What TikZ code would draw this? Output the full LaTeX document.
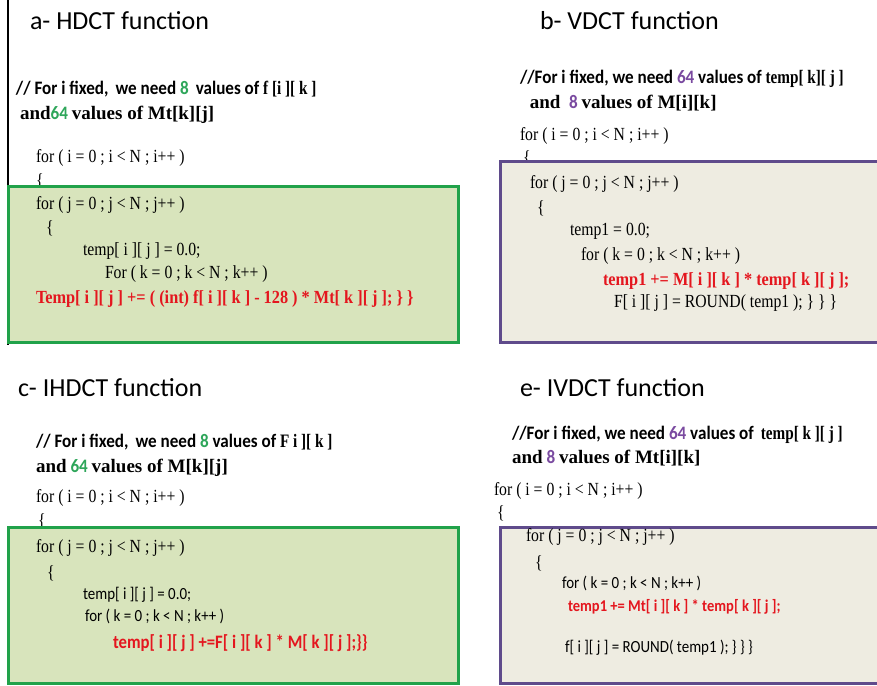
\documentclass[tikz,border=0pt]{standalone}
\usepackage{fontspec}
\setmainfont{Liberation Serif}
\newfontfamily\calfont{Carlito}
\newfontfamily\calcond[FakeStretch=0.9]{Carlito}
\newfontfamily\calcode[FakeStretch=0.88]{Carlito}
\newfontfamily\serfont[FakeStretch=0.85]{Liberation Serif}
\newfontfamily\serred[FakeStretch=0.88]{Liberation Serif}
\newfontfamily\serbold{Liberation Serif}
\newfontfamily\serboldc[FakeStretch=0.8]{Liberation Serif}
\definecolor{gborder}{HTML}{21A24A}
\definecolor{gfill}{HTML}{D8E4BC}
\definecolor{pborder}{HTML}{5F4B8B}
\definecolor{pfill}{HTML}{EEECE1}
\definecolor{gnum}{HTML}{2EA65A}
\definecolor{pnum}{HTML}{7A4AA0}
\definecolor{redc}{HTML}{E4161E}
\newcommand{\serbf}[1]{{\serbold\bfseries\fontsize{19}{21}\selectfont #1}}
\newcommand{\serbfc}[1]{{\serboldc\bfseries\fontsize{19}{21}\selectfont #1}}
\begin{document}
\begin{tikzpicture}[x=1pt,y=-1pt,
 txt/.style={anchor=base west, inner sep=0pt, outer sep=0pt},
 title/.style={txt, font=\calfont\fontsize{26}{30}\selectfont},
 cmt/.style={txt, font=\calcond\bfseries\fontsize{19}{21}\selectfont},
 scode/.style={txt, font=\serfont\fontsize{18.5}{20}\selectfont},
 ccode/.style={txt, font=\calcode\fontsize{17}{18}\selectfont},
 sred/.style={txt, text=redc, font=\serred\bfseries\fontsize{18.5}{20}\selectfont},
 cred/.style={txt, text=redc, font=\calcode\bfseries\fontsize{19}{20}\selectfont},
 ered/.style={txt, text=redc, font=\calcode\bfseries\fontsize{16.5}{20}\selectfont},
 gbox/.style={draw=gborder, fill=gfill, line width=3pt},
 pbox/.style={draw=pborder, fill=pfill, line width=3pt}]
\useasboundingbox (0,0) rectangle (877,685);
\fill[white] (0,0) rectangle (877,685);
% left vertical rule
\coordinate (vtop) at (8,0);
\coordinate (vbot) at (8,345);
\draw[line width=1.2pt] (vtop) -- (vbot);

% ---------- a ----------
\node[title] (ta) at (30,30) {a- HDCT function};
\node[cmt] (ca1) at (16,94) {// For i fixed,\, we need {\color{gnum}8}\, values of \serbfc{f [i ][ k ]}};
\node[cmt] (ca2) at (20,119) {\serbf{and}{\color{gnum}64} \serbf{values of Mt[k][j]}};
\node[scode] (fa1) at (36,162) {for ( i = 0 ; i < N ; i++ )};
\node[scode] (ba1) at (36,186) {\{};
\draw[gbox] (8,186) rectangle (458,342);
\node[scode] (fa2) at (36,209) {for ( j = 0 ; j < N ; j++ )};
\node[scode] (ba2) at (46,233) {\{};
\node[scode] (ka1) at (83,255) {temp[ i ][ j ] = 0.0;};
\node[scode] (ka2) at (105,278) {For ( k = 0 ; k < N ; k++ )};
\node[sred] (ra) at (36,303) {Temp[ i ][ j ] += ( (int) f[ i ][ k ] - 128 ) * Mt[ k ][ j ]; \} \}};

% ---------- b ----------
\node[title] (tb) at (540,30) {b- VDCT function};
\node[cmt] (cb1) at (520,83) {//For i fixed, we need {\color{pnum}64} values of \serbfc{temp[ k][ j ]}};
\node[cmt] (cb2) at (525,108) {\serbf{\ and\ } {\color{pnum}8} \serbf{values of M[i][k]}};
\node[scode] (fb1) at (520,140) {for ( i = 0 ; i < N ; i++ )};
\node[scode] (bb1) at (523,163) {\{};
\draw[pbox] (500,161) rectangle (885,342);
\node[scode] (fb2) at (530,188) {for ( j = 0 ; j < N ; j++ )};
\node[scode] (bb2) at (537,213) {\{};
\node[scode] (kb1) at (570,235) {temp1 = 0.0;};
\node[scode] (kb2) at (581,260) {for ( k = 0 ; k < N ; k++ )};
\node[sred] (rb) at (603,285) {temp1 += M[ i ][ k ] * temp[ k ][ j ];};
\node[scode] (kb3) at (614,307) {F[ i ][ j ] = ROUND( temp1 ); \} \} \}};

% ---------- c ----------
\node[title] (tc) at (18,396) {c- IHDCT function};
\node[cmt] (cc1) at (36,447) {// For i fixed,\, we need {\color{gnum}8} values of \serbfc{F i ][ k ]}};
\node[cmt] (cc2) at (36,472) {\serbf{and} {\color{gnum}64} \serbf{values of M[k][j]}};
\node[scode] (fc1) at (36,502) {for ( i = 0 ; i < N ; i++ )};
\node[scode] (bc1) at (38,526) {\{};
\draw[gbox] (8,527) rectangle (458,683);
\node[scode] (fc2) at (36,552) {for ( j = 0 ; j < N ; j++ )};
\node[scode] (bc2) at (47,578) {\{};
\node[ccode] (kc1) at (83,599) {temp[ i ][ j ] = 0.0;};
\node[ccode] (kc2) at (85,621) {for ( k = 0 ; k < N ; k++ )};
\node[cred] (rc) at (113,648) {temp[ i ][ j ] +=F[ i ][ k ] * M[ k ][ j ];\}\}};

% ---------- e ----------
\node[title] (te) at (520,396) {e- IVDCT function};
\node[cmt] (ce1) at (512,439) {//For i fixed, we need {\color{pnum}64} values of\, \serbfc{temp[ k ][ j ]}};
\node[cmt] (ce2) at (512,463) {\serbf{and} {\color{pnum}8} \serbf{values of Mt[i][k]}};
\node[scode] (fe1) at (494,495) {for ( i = 0 ; i < N ; i++ )};
\node[scode] (be1) at (497,518) {\{};
\draw[pbox] (500,527) rectangle (885,683);
\node[scode] (fe2) at (526,541) {for ( j = 0 ; j < N ; j++ )};
\node[scode] (be2) at (535,568) {\{};
\node[ccode] (ke1) at (562,588) {for ( k = 0 ; k < N ; k++ )};
\node[ered] (re) at (568,611) {temp1 += Mt[ i ][ k ] * temp[ k ][ j ];};
\node[ccode] (ke2) at (565,652) {f[ i ][ j ] = ROUND( temp1 ); \} \} \}};
\end{tikzpicture}
\end{document}
